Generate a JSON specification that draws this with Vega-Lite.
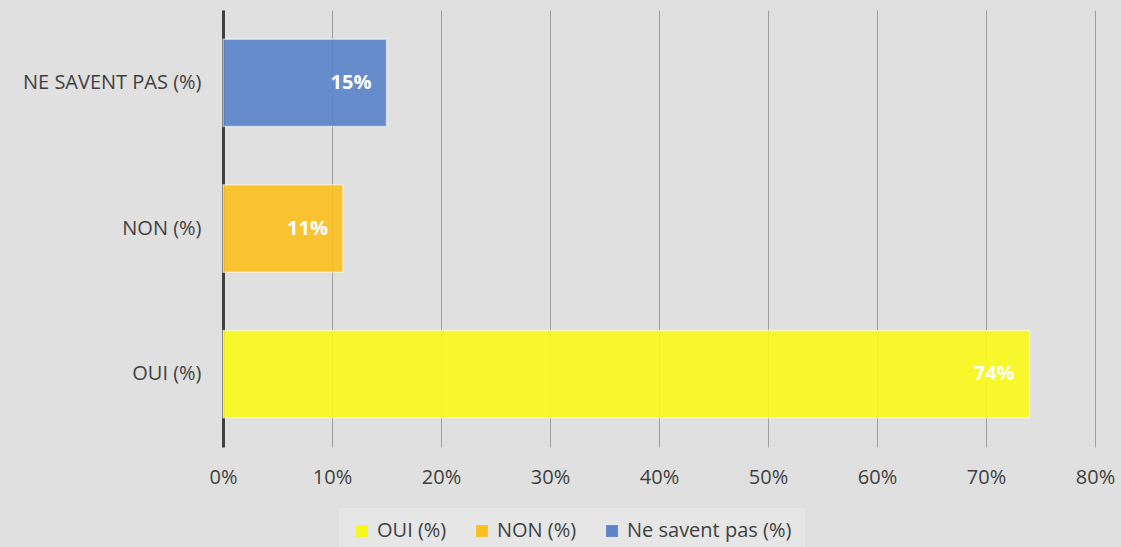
{
  "$schema": "https://vega.github.io/schema/vega-lite/v6.json",
  "width": 872,
  "height": 437,
  "autosize": {"type": "none"},
  "padding": {"left": 223, "top": 10, "right": 26, "bottom": 100},
  "background": "#e0e0e0",
  "config": {
    "view": {"stroke": null},
    "font": "Open Sans",
    "axis": {"labelFont": "Open Sans", "labelColor": "#404040", "labelFontSize": 20}
  },
  "data": {
    "values": [
      {"cat": "OUI (%)", "value": 0.74, "label": "74%"},
      {"cat": "NON (%)", "value": 0.11, "label": "11%"},
      {"cat": "Ne savent pas (%)", "value": 0.15, "label": "15%"}
    ]
  },
  "encoding": {
    "y": {
      "field": "cat",
      "type": "nominal",
      "sort": ["Ne savent pas (%)", "NON (%)", "OUI (%)"],
      "scale": {"paddingInner": 0.4, "paddingOuter": 0.2},
      "axis": {
        "title": null,
        "labelExpr": "upper(datum.label)",
        "ticks": false,
        "domainColor": "#404040",
        "domainWidth": 3,
        "labelPadding": 22,
        "labelLimit": 300,
        "grid": false
      }
    },
    "x": {
      "field": "value",
      "type": "quantitative",
      "scale": {"domain": [0, 0.8], "nice": false},
      "axis": {
        "title": null,
        "format": ".0%",
        "values": [0, 0.1, 0.2, 0.3, 0.4, 0.5, 0.6, 0.7, 0.8],
        "domain": false,
        "ticks": false,
        "grid": true,
        "gridColor": "#a0a0a0",
        "gridWidth": 1,
        "labelPadding": 20,
        "labelFlush": false
      }
    }
  },
  "layer": [
    {
      "mark": {"type": "bar", "fillOpacity": 0.92, "strokeWidth": 1.5, "strokeOpacity": 0.5},
      "encoding": {
        "color": {
          "field": "cat",
          "type": "nominal",
          "scale": {
            "domain": ["OUI (%)", "NON (%)", "Ne savent pas (%)"],
            "range": ["#f8f81c", "#fbbf22", "#5b84c9"]
          },
          "legend": {
            "title": null,
            "orient": "none",
            "direction": "horizontal",
            "legendX": 116,
            "legendY": 498,
            "fillColor": "#e6e6e6",
            "padding": 13,
            "symbolType": "square",
            "symbolSize": 140,
            "symbolStrokeWidth": 0,
            "labelFontSize": 20,
            "labelColor": "#404040",
            "labelFont": "Open Sans",
            "labelOffset": 5,
            "labelLimit": 300,
            "columnPadding": 25,
            "offset": 0
          }
        },
        "stroke": {"value": "#ffffff"}
      }
    },
    {
      "mark": {"type": "text", "align": "right", "dx": -15, "color": "white", "fontWeight": "bold", "fontSize": 20, "font": "Open Sans"},
      "encoding": {"text": {"field": "label"}}
    }
  ]
}
